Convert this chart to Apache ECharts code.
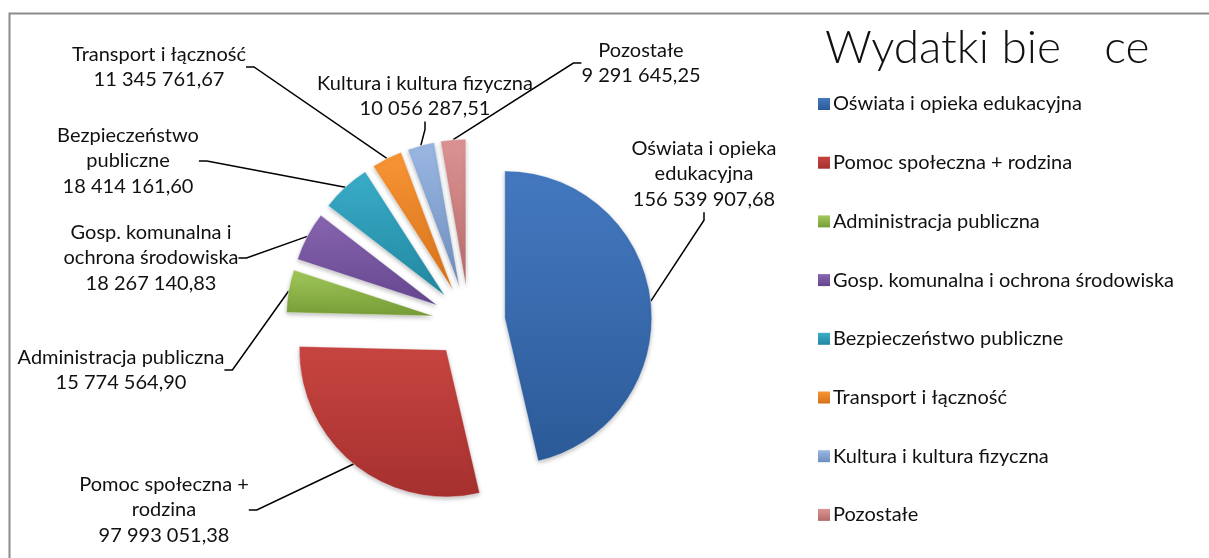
<!DOCTYPE html>
<html>
<head>
<meta charset="utf-8">
<title>Wydatki bieżące</title>
<script src="https://cdn.jsdelivr.net/npm/echarts@6/dist/echarts.min.js"></script>
<style>
  html, body { margin: 0; padding: 0; background: #fff; }
  #chart { width: 1209px; height: 558px; }
</style>
</head>
<body>
<div id="chart"></div>
<script>
// dane
const categories = [
  'Oświata i opieka edukacyjna',
  'Pomoc społeczna + rodzina',
  'Administracja publiczna',
  'Gosp. komunalna i ochrona środowiska',
  'Bezpieczeństwo publiczne',
  'Transport i łączność',
  'Kultura i kultura fizyczna',
  'Pozostałe'
];
const values = [156539907.68, 97993051.38, 15774564.90, 18267140.83, 18414161.60, 11345761.67, 10056287.51, 9291645.25];
// nazwy na etykietach (z łamaniem linii jak w Excelu)
const labelNames = [
  'Oświata i opieka\nedukacyjna',
  'Pomoc społeczna +\nrodzina',
  'Administracja publiczna',
  'Gosp. komunalna i\nochrona środowiska',
  'Bezpieczeństwo\npubliczne',
  'Transport i łączność',
  'Kultura i kultura fizyczna',
  'Pozostałe'
];

// kolory: [jasny, ciemny]
const colors = [
  ['#4479c0', '#2c5a98'],
  ['#c84541', '#a5302e'],
  ['#a2c95a', '#769c37'],
  ['#8866b0', '#65468e'],
  ['#3aadc9', '#2287a0'],
  ['#f89535', '#d6711a'],
  ['#9ab8e2', '#6f8dbd'],
  ['#dc9493', '#b56a6a']
];
// pozycje etykiet (środek bloku tekstu)
const labelPos = [
  [704, 174], [164, 510], [121, 370], [151, 258],
  [128, 161], [159, 67], [425, 96], [641, 63]
];

const CENTER = [469, 322];
const RADIUS = 147;
const EXPLODE = 36;

const fmt = v => {
  const [i, d] = v.toFixed(2).split('.');
  return i.replace(/\B(?=(\d{3})+(?!\d))/g, ' ') + ',' + d;
};

const grad = c => new echarts.graphic.LinearGradient(0, 0, 0, 1, [
  {offset: 0, color: c[0]},
  {offset: 1, color: c[1]}
]);

const total = values.reduce((a, b) => a + b, 0);
// środek każdego wycinka przesunięty wzdłuż jego dwusiecznej (wysunięty wykres kołowy)
let acc = 0;
const centers = values.map(v => {
  const mid = (acc + v / 2) / total * Math.PI * 2;
  acc += v;
  return [CENTER[0] + EXPLODE * Math.sin(mid), CENTER[1] - EXPLODE * Math.cos(mid)];
});

const chart = echarts.init(document.getElementById('chart'));
const FONT = 'Lato, "Noto Sans", sans-serif';

const series = categories.map((cat, i) => ({
  type: 'pie',
  name: cat,
  center: centers[i],
  radius: RADIUS,
  startAngle: 90,
  clockwise: true,
  avoidLabelOverlap: false,
  emphasis: {disabled: true},
  label: {
    position: 'outside',
    fontFamily: FONT,
    fontSize: 20,
    lineHeight: 25.5,
    color: '#111',
    align: 'center',
    formatter: p => labelNames[p.dataIndex] + '\n' + fmt(p.value)
  },
  labelLine: {length: 12, length2: 8, lineStyle: {color: '#000', width: 1.5}},
  labelLayout: p => {
    const pos = labelPos[p.dataIndex];
    return {x: pos[0], y: pos[1], align: 'center', verticalAlign: 'middle'};
  },
  data: categories.map((name, j) => ({
    name: name,
    value: values[j],
    itemStyle: j === i
      ? {
          color: grad(colors[j]),
          borderColor: 'rgba(255,255,255,0.35)',
          borderWidth: 1,
          shadowColor: 'rgba(0,0,0,0.25)',
          shadowBlur: 4,
          shadowOffsetY: 2
        }
      : {color: 'rgba(0,0,0,0)', borderWidth: 0},
    label: {show: j === i},
    labelLine: {show: j === i}
  }))
}));

chart.setOption({
  animation: false,
  title: {
    text: 'Wydatki bie\u00a0\u00a0\u00a0\u2009ce',
    left: 820,
    top: 20,
    textStyle: {fontFamily: FONT, fontWeight: 300, fontSize: 46, color: '#111'}
  },
  legend: {
    orient: 'vertical',
    left: 813,
    top: 89,
    itemWidth: 12,
    itemHeight: 12,
    itemGap: 38.7,
    icon: 'rect',
    selectedMode: false,
    textStyle: {fontFamily: FONT, fontSize: 20, lineHeight: 20, color: '#111', padding: [0, 0, 0, -2]},
    data: categories.map((name, i) => ({name: name, itemStyle: {color: grad(colors[i])}}))
  },
  graphic: [{
    type: 'polyline',
    shape: {points: [[9.5, 600], [9.5, 13.5], [1220, 13.5]]},
    style: {stroke: '#8c8c8c', lineWidth: 2, fill: null},
    silent: true
  }],
  series: series
});
</script>
</body>
</html>
